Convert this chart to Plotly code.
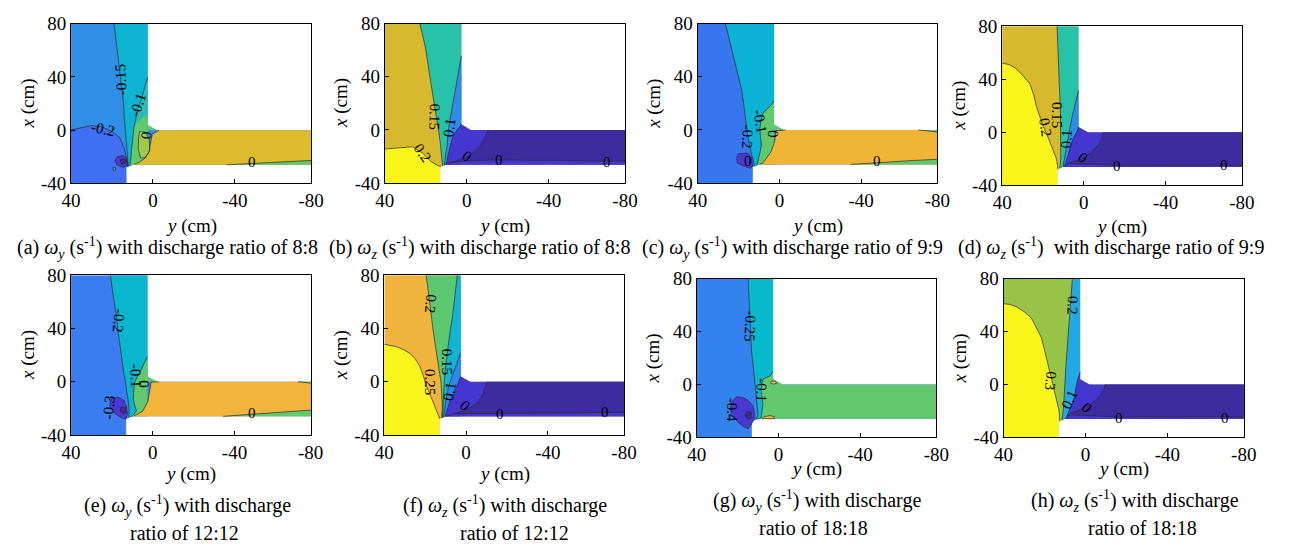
import plotly.graph_objects as go

W, H = 1290, 551
OFF = 8  # page body margin in the browser, compensated in all pixel positions
FONT = "Liberation Serif"

# ---------------- axes ----------------
H_RANGE = [40, -77.3]
H_TICKVALS = [40, 0, -40, -77.3]
H_TICKTEXT = ["40", "0", "-40", "-80"]
V_RANGE = [-40, 80]
V_TICKVALS = [-40, 0, 40, 80]
V_TICKTEXT = ["-40", "0", "40", "80"]

# flow domain outline, points are (y, x) in cm
DOMAIN = [(40, 80), (2.6, 80), (2.6, 4), (-2, 0), (-80, 0), (-80, -26),
          (10, -26), (13, -28), (13, -40), (40, -40)]

ORDER = ["a", "b", "c", "d", "e", "f", "g", "h"]
# plot-area boxes in pixels: left, right, top, bottom
BOX = {"a": (62, 306.5, 14, 180), "b": (381.5, 626, 14, 179.5),
       "c": (700, 944, 14, 179.5), "d": (1010, 1254, 16.5, 182),
       "e": (62, 306, 275.5, 441.5), "f": (381, 625, 275.5, 441.5),
       "g": (699, 943, 279, 444), "h": (1011.5, 1256, 279, 444)}
XLABEL_Y = {"a": 224, "b": 224, "c": 224, "d": 225, "e": 482, "f": 482, "g": 477, "h": 477}

# ---------------- colours ----------------
C_DKPUR = "#3c2c9f"
C_PUR = "#4636d0"
C_BLOB = "#4a38d2"
C_CORE = "#3a2a96"
C_GREEN = "#62c86d"
C_YGREEN = "#a2c84a"

# ---------------- panel data: regions (colour, contour line, closing path) ----------------
PANEL_A = dict(
    base="#2f8fe6",
    regions=[
        ("#3f6ff3", [(40, 0.2), (34.7, 1.9), (29.9, 3.5), (25.1, 2.6), (20.3, -0.6), (16.3, -5.4), (13.9, -13.9), (12.6, -24), (12.3, -27.5)],
         [(13, -28), (13, -40), (40, -40)]),
        ("#0cb3d3", [(19, 80), (17.8, 65), (16.5, 50), (15.5, 38), (14.5, 22), (14, 10), (13.3, -3), (12.6, -15), (12, -27.3)],
         [(10, -26), (2.6, -26), (2.6, 80)]),
        ("#2bbdb6", [(2.6, 40), (4, 32), (5.5, 24), (7.2, 17), (8.3, 10), (9.3, 2), (10, -8), (10.8, -18), (11.2, -26.8)],
         [(10, -26), (2.6, -26)]),
        (C_GREEN, [], [(2.6, 12), (5, 9.5), (7.5, 6), (9.3, 2), (10, -8), (10.8, -18), (11.2, -26.8), (10, -26), (2.6, -26),
                       (2.6, 0), (-2, 0), (2.6, 4)]),
        (C_YGREEN, [(6.5, -1), (3.5, -1.5), (1.8, -7), (1.5, -15), (3.5, -20.5), (6, -21), (7.2, -14), (7, -6)], None),
        ("#dcbb2d", [(-3, 0), (0.3, -3), (1.1, -9), (1.9, -16.3), (4.3, -21.6), (6.7, -24), (9, -25.5)],
         [(10, -26), (-80, -26), (-80, 0)]),
        (C_GREEN, [(-36, -26), (-45, -25.3), (-55, -24.5), (-65, -23.5), (-80, -22.5)], [(-80, -26)]),
        (C_BLOB, [(17.5, -20), (14.5, -19), (12.6, -21.5), (12.4, -26), (14.5, -28), (17.5, -26), (18.5, -23)], None),
        (C_CORE, [(15.5, -21.5), (13.6, -21.8), (13.2, -24.5), (15, -25.5), (16, -24)], None),
        ("#0cb3d3", [(19.6, -28), (18.4, -28), (18.2, -30), (19.3, -30.5)], None),
    ],
    labels=[("-0.15", 15.8, 38, -93), ("-0.1", 7.4, 19, -72), ("-0.2", 24.5, 0.8, 12),
            ("0", 3.3, -3.5, -85), ("0", -48.5, -24.2, 0)],
)

PANEL_B = dict(
    base="#d6b92d",
    regions=[
        ("#f7f51a", [(40, -14.4), (33, -13.5), (26.4, -12.7), (21.6, -17.5), (17.6, -23.6), (14.5, -26.5), (12.6, -27.8)],
         [(13, -28), (13, -40), (40, -40)]),
        ("#27c3a9", [(22.9, 80), (21.5, 70), (20, 61), (18.5, 45), (16.8, 29.7), (15.5, 15), (14.4, 5.5), (13.5, -3),
                     (12.8, -11.5), (12.2, -20), (11.8, -27.2)],
         [(10, -26), (2.6, -26), (2.6, 80)]),
        ("#2e8ce8", [(2.6, 56), (4, 42), (5.6, 29.7), (7, 18), (8, 10.3), (9, 0), (9.6, -11.5), (10.3, -20), (11, -26.7)],
         [(10, -26), (2.6, -26)]),
        (C_PUR, [(2.6, 4.3), (4.5, 0), (5.6, -1.8), (7, -6), (8, -11.5), (9, -18), (9.6, -23.6), (10.5, -26.3)],
         [(10, -26), (-80, -26), (-80, 0), (-2, 0), (2.6, 4)]),
        (C_DKPUR, [(-10.4, 0), (-9.5, -3), (-8.8, -6.6), (-7, -11), (-5.6, -13.9), (-3, -17.5), (-0.8, -19.9), (3, -22.5),
                   (5.6, -23.6), (8, -24.5), (10, -25.8)],
         [(10, -26), (-80, -26), (-80, 0)]),
        (C_PUR, [(8, -24.5), (0, -23.2), (-16, -22.6), (-40, -23), (-70, -23.3), (-80, -23.5)], [(-80, -26), (10, -26)]),
    ],
    labels=[("0.15", 15.5, 10, 92), ("0.1", 8.6, 1.5, -82), ("0.2", 21.6, -17.5, 55),
            ("0", 0, -20, 35), ("0", -16, -22.8, 0), ("0", -68.5, -24.3, 0)],
)

PANEL_C = dict(
    base="#3677f0",
    regions=[
        ("#0ab2d6", [(26.4, 80), (24.5, 68), (22.4, 56.3), (20.3, 43), (18.4, 29.7), (17.5, 20), (16.8, 10.3), (16, 1),
                     (15.2, -6.6), (14.4, -13), (13.6, -18.7), (12.6, -24), (12.2, -27.5)],
         [(10, -26), (2.6, -26), (2.6, 80)]),
        (C_GREEN, [(2.6, 22), (4.5, 18), (8, 12.7), (9, 7), (9.6, 0.6), (9, -6), (8.8, -11.5), (9.5, -17), (10.4, -23.6), (11, -26.7)],
         [(10, -26), (2.6, -26), (2.6, 0), (-2, 0), (2.6, 4)]),
        ("#f1b535", [(-3, 0), (1.6, -0.6), (2, -5), (2.4, -9), (4, -16.3), (6.4, -21.1), (8, -24.8), (9.5, -25.7)],
         [(10, -26), (-80, -26), (-80, 0)]),
        (C_GREEN, [(-35, -26), (-45, -25), (-56, -23.6), (-66, -23), (-80, -22)], [(-80, -26)]),
        (C_GREEN, [(-68, 0), (-74, -1), (-80, -2)], [(-80, 0)]),
        (C_BLOB, [(20, -18), (15.5, -17.5), (13.5, -21), (13.2, -27.5), (14.2, -29), (17, -27.5), (20.5, -25), (21, -21)], None),
    ],
    labels=[("-0.2", 15.4, -5, 92), ("-0.1", 9.3, 6, 80), ("0", 3.3, -3, -88),
            ("0", 15.5, -23.6, 0), ("0", -48, -23.3, 0)],
)

PANEL_D = dict(
    base="#d6b92d",
    regions=[
        ("#f7f51a", [(40, 52.2), (36.5, 51), (33.6, 48.5), (30, 43), (26.4, 36.4), (24.5, 28), (23.2, 19.5), (21.5, 12),
                     (20, 5), (18, -2), (16, -9.5), (14.8, -14), (13.6, -19.2), (13, -24), (12.7, -27.8)],
         [(13, -28), (13, -40), (40, -40)]),
        ("#27c3a9", [(13.1, 80), (12.8, 65), (12.5, 55.8), (12, 35), (11.5, 19.5), (11.3, 5), (11.2, -9.5), (11.3, -20), (11.8, -27.2)],
         [(10, -26), (2.6, -26), (2.6, 80)]),
        ("#2e8ce8", [(2.6, 31.6), (3.5, 26), (4.8, 19.5), (6, 10), (7.2, 0.2), (8, -7), (8.8, -14.4), (9.3, -20), (10.2, -26.1)],
         [(2.6, -26)]),
        (C_PUR, [(2.6, 4), (3.5, 0), (5, -4), (6.5, -10), (7.5, -16), (8.5, -21), (9.5, -25.9)],
         [(10, -26), (-80, -26), (-80, 0), (-2, 0), (2.6, 4)]),
        (C_DKPUR, [(-9.6, 0), (-9, -4), (-7.2, -9.5), (-5, -13), (-3.2, -15.6), (0, -18.5), (1.6, -20.4), (5, -21.8),
                   (7.2, -22.8), (9.3, -25.5)],
         [(10, -26), (-80, -26), (-80, 0)]),
        (C_PUR, [(7, -23.5), (0, -23.8), (-16, -24.8), (-40, -25), (-80, -24.8)], [(-80, -26), (10, -26)]),
    ],
    labels=[("0.2", 18.6, 3.5, 80), ("0.15", 13.1, 13, 90), ("0.1", 8.8, -4.7, -88),
            ("0", 0.3, -19.2, 40), ("0", -16, -25.3, 0), ("0", -68.5, -25, 0)],
)

PANEL_E = dict(
    base="#3a7df0",
    regions=[
        ("#08b6cd", [(20.8, 80), (19.6, 68), (18.4, 57.6), (17.6, 47), (16.8, 35.9), (16, 26), (15.2, 16.6), (14.4, 9),
                     (13.6, 2.2), (12.8, -5), (12, -12.3), (11.6, -19), (11.7, -27)],
         [(10, -26), (2.6, -26), (2.6, 80)]),
        (C_GREEN, [(2.6, 19), (4, 14), (5.6, 9.4), (7.5, 4), (8.8, -0.2), (9.3, -6), (9.6, -12.3), (9, -17), (8, -21.9),
                   (9.5, -25), (10.6, -26.4)],
         [(10, -26), (2.6, -26), (2.6, 0), (-2, 0), (2.6, 4)]),
        ("#f2b53a", [(-3, 0), (0.8, -0.2), (1.2, -4), (1.6, -7.5), (2.4, -14.7), (4.8, -21.9), (7.2, -24.3), (9.2, -25.6)],
         [(10, -26), (-80, -26), (-80, 0)]),
        (C_GREEN, [(-34.4, -26), (-45, -24.8), (-58.4, -23.1), (-68, -22.3), (-80, -21)], [(-80, -26)]),
        (C_GREEN, [(-71, 0), (-76, -0.8), (-80, -1.5)], [(-80, 0)]),
        (C_BLOB, [(20.5, -13), (17, -11.5), (14, -14), (12.8, -19), (12.4, -24), (13.1, -28), (14.5, -27.5), (17, -25.5),
                  (19.5, -22.5), (21, -18)], None),
        (C_CORE, [(15.5, -19), (13.2, -19.5), (13, -23), (14.8, -24), (16, -22)], None),
    ],
    labels=[("-0.2", 16.8, 45.5, 95), ("-0.1", 8.2, 4.5, 88), ("0", 4, -1.5, 90),
            ("-0.3", 21.6, -19.5, -85), ("0", -48.5, -23.3, 0)],
)

PANEL_F = dict(
    base="#f0b33c",
    regions=[
        ("#f7f51a", [(40, 28.2), (37, 27.5), (33.9, 26.3), (30.5, 24), (27.5, 21.4), (25, 17.5), (22.7, 11.8), (21, 5),
                     (19.5, -2.7), (17.5, -10), (15.5, -17.1), (14, -22.5), (12.8, -27.9)],
         [(13, -28), (13, -40), (40, -40)]),
        ("#5cc870", [(19.5, 80), (18.3, 64), (17.1, 48), (15.9, 36), (14.7, 23.9), (13.5, 12), (12.3, -0.2), (11.9, -10),
                     (11.6, -19.5), (12, -27.3)],
         [(10, -26), (2.6, -26), (2.6, 80)]),
        ("#12b4d4", [(4.3, 80), (5.5, 64), (6.7, 48), (8, 36), (9.1, 23.9), (10, 12), (10.7, -0.2), (10.9, -10),
                     (11.2, -19.5), (11.5, -27)],
         [(10, -26), (2.6, -26), (2.6, 80)]),
        ("#2f86ec", [(2.6, 22), (4.5, 14), (6.5, 6), (8.5, -3), (9.5, -11), (10.5, -20), (11, -26.7)],
         [(10, -26), (2.6, -26)]),
        (C_PUR, [(2.6, 4), (3.5, 0), (5, -5), (6.5, -10), (8, -15), (9, -20), (10.3, -26.2)],
         [(10, -26), (-80, -26), (-80, 0), (-2, 0), (2.6, 4)]),
        (C_DKPUR, [(-10.1, 0), (-9.5, -4), (-8.5, -8.7), (-7, -12.5), (-5.3, -15.9), (-3, -18.5), (-0.5, -20.7), (3, -22.8),
                   (5.1, -23.9), (7.5, -24.8), (9.9, -25.9)],
         [(10, -26), (-80, -26), (-80, 0)]),
        (C_PUR, [(6, -24.3), (0, -23.8), (-16.5, -23.8), (-40, -23.5), (-68, -23), (-80, -23)], [(-80, -26), (10, -26)]),
    ],
    labels=[("0.2", 17.1, 58.8, 95), ("0.15", 9.3, 15, 90), ("0.25", 17.9, -0.5, 90),
            ("0.1", 8.3, -7.5, -80), ("0", 0.3, -18.3, 45), ("0", -16.5, -24.3, 0), ("0", -68.2, -23.1, 0)],
)

PANEL_G = dict(
    base="#3482ee",
    regions=[
        ("#08b8cc", [(14.8, 80), (14.4, 65), (14, 50.2), (13.6, 38), (13.2, 25.9), (12.4, 15), (11.6, 4.1), (11.2, -3),
                     (10.8, -10.4), (10.4, -16), (10, -22.5), (10.8, -26.5)],
         [(10, -26), (2.6, -26), (2.6, 80)]),
        (C_GREEN, [(2.6, 10), (4, 6.5), (7.6, 4.1), (8.2, 0), (8.4, -5.6), (8, -10), (7.6, -15.3), (8, -20), (8.4, -25), (10.3, -26.2)],
         [(10, -26), (-80, -26), (-80, 0), (-2, 0), (2.6, 4)]),
        ("#f3b43a", [(3.5, 2.5), (1.5, 2.5), (0.8, 1), (2.5, 0.2), (3.8, 1)], None),
        ("#f3b43a", [(7, -24.3), (4, -23.5), (2, -24.5), (2, -25.9), (8, -25.9)], None),
        (C_BLOB, [(20.4, -9.2), (17, -10), (14.5, -12.5), (12.5, -16), (11.8, -21), (11.8, -26), (13.2, -30), (14.8, -33.5),
                  (17.5, -31.5), (20.4, -27.4), (23, -22), (23.6, -17.7), (22.5, -12.5)], None),
        (C_CORE, [(15.5, -20.5), (13.3, -21), (13, -25), (15, -26.5), (16.3, -23.5)], None),
    ],
    labels=[("-0.25", 14, 44, 92), ("-0.1", 8.4, -4.4, 92), ("-0.4", 22.8, -18.9, 90)],
)

PANEL_H = dict(
    base="#97c447",
    regions=[
        ("#f8f51a", [(40, 61.1), (37, 60.5), (33.6, 58.7), (30, 55), (26.4, 50.2), (24, 43), (21.6, 35.6), (20, 26),
                     (18.4, 16.2), (17.2, 8), (16, -0.7), (14.8, -8), (13.6, -15.3), (12.8, -21), (12.6, -27.8)],
         [(13, -28), (13, -40), (40, -40)]),
        ("#20a9e2", [(6.4, 80), (7.2, 65), (8, 50.2), (8.8, 32), (9.6, 13.8), (10, 2), (10.4, -10.4), (10.8, -19), (11.5, -27)],
         [(10, -26), (2.6, -26), (2.6, 80)]),
        (C_PUR, [(2.6, 9.5), (3.5, 6), (4, 3), (4.8, -3.5), (5.6, -10.4), (6.8, -15.5), (8, -20.1), (9.6, -25.8)],
         [(10, -26), (-80, -26), (-80, 0), (-2, 0), (2.6, 4)]),
        (C_DKPUR, [(-9.6, 0), (-9, -4), (-7.2, -8), (-5, -12), (-2.4, -15.3), (1, -18), (4, -20.1), (7, -21.5), (9.5, -25.6)],
         [(10, -26), (-80, -26), (-80, 0)]),
        (C_PUR, [(7, -23), (0, -23.5), (-16.5, -24.5), (-40, -24.6), (-80, -24.5)], [(-80, -26), (10, -26)]),
    ],
    labels=[("0.2", 6.4, 59.9, 92), ("0.3", 16.8, 2.9, 95), ("0.1", 8, -11.6, -65),
            ("0", -0.8, -17.7, 45), ("0", -16.5, -25, 0), ("0", -68.3, -25, 0)],
)

PANELS = {"a": PANEL_A, "b": PANEL_B, "c": PANEL_C, "d": PANEL_D,
          "e": PANEL_E, "f": PANEL_F, "g": PANEL_G, "h": PANEL_H}

# ---------------- captions (text, centre x px, centre y px) ----------------
WY = "<i>ω<sub>y</sub></i> (s<sup>-1</sup>)"
WZ = "<i>ω<sub>z</sub></i> (s<sup>-1</sup>)"
CAPTIONS = [
    ("(a) " + WY + " with discharge ratio of 8:8", 160, 247),
    ("(b) " + WZ + " with discharge ratio of 8:8", 478, 247),
    ("(c) " + WY + " with discharge ratio of 9:9", 797, 247),
    ("(d) " + WZ + "  with discharge ratio of 9:9", 1121, 247),
    ("(e) " + WY + " with discharge", 181, 515),
    ("ratio of 12:12", 178, 543),
    ("(f) " + WZ + " with discharge", 504, 515),
    ("ratio of 12:12", 514, 543),
    ("(g) " + WY + " with discharge", 821, 510),
    ("ratio of 18:18", 818, 538),
    ("(h) " + WZ + " with discharge", 1145, 510),
    ("ratio of 18:18", 1153, 538),
]

fig = go.Figure()
annotations = []
layout = {}


def xy(pts):
    return [p[0] for p in pts], [p[1] for p in pts]


def px(v):
    return (v - OFF) / W


def py(v):
    return 1 - (v - OFF) / H


for i, key in enumerate(ORDER):
    n = "" if i == 0 else str(i + 1)
    xa, ya = "x" + n, "y" + n
    spec = PANELS[key]
    l, r, t, b = BOX[key]
    xs, ys = xy(DOMAIN + [DOMAIN[0]])
    fig.add_trace(go.Scatter(x=xs, y=ys, xaxis=xa, yaxis=ya, mode="lines", fill="toself",
                             fillcolor=spec["base"], line=dict(width=0), hoverinfo="skip", showlegend=False))
    for color, ln, cl in spec["regions"]:
        pts = ln + (cl if cl else [])
        xs, ys = xy(pts + [pts[0]])
        fig.add_trace(go.Scatter(x=xs, y=ys, xaxis=xa, yaxis=ya, mode="lines", fill="toself",
                                 fillcolor=color, line=dict(width=0), hoverinfo="skip", showlegend=False))
    for color, ln, cl in spec["regions"]:
        if not ln:
            continue
        pts = ln if cl else ln + [ln[0]]
        xs, ys = xy(pts)
        fig.add_trace(go.Scatter(x=xs, y=ys, xaxis=xa, yaxis=ya, mode="lines",
                                 line=dict(color="#2b2b2b", width=0.7), hoverinfo="skip", showlegend=False))
    for txt, yv, xv, ang in spec["labels"]:
        annotations.append(dict(text=txt, x=yv, y=xv, xref=xa, yref=ya, showarrow=False,
                                xanchor="center", yanchor="middle", textangle=ang,
                                font=dict(family=FONT, size=15, color="black")))
    layout["xaxis" + n] = dict(domain=[px(l), px(r)], range=H_RANGE, tickvals=H_TICKVALS, ticktext=H_TICKTEXT,
                               anchor=ya, ticks="inside", ticklen=4, tickcolor="black", showline=True,
                               linecolor="black", linewidth=1, mirror=True, showgrid=False, zeroline=False,
                               tickfont=dict(family=FONT, size=19, color="black"))
    layout["yaxis" + n] = dict(domain=[py(b), py(t)], range=V_RANGE, tickvals=V_TICKVALS, ticktext=V_TICKTEXT,
                               anchor=xa, ticks="inside", ticklen=4, tickcolor="black", showline=True,
                               linecolor="black", linewidth=1, mirror=True, showgrid=False, zeroline=False,
                               tickfont=dict(family=FONT, size=19, color="black"))
    annotations.append(dict(text="<i>x</i> (cm)", x=px(l - 44), y=py((t + b) / 2), xref="paper", yref="paper",
                            xanchor="center", yanchor="middle", showarrow=False, textangle=-90,
                            font=dict(family=FONT, size=19, color="black")))
    annotations.append(dict(text="<i>y</i> (cm)", x=px((l + r) / 2), y=py(XLABEL_Y[key]), xref="paper", yref="paper",
                            xanchor="center", yanchor="middle", showarrow=False,
                            font=dict(family=FONT, size=19, color="black")))

for txt, cx, cy in CAPTIONS:
    annotations.append(dict(text=txt, x=px(cx), y=py(cy), xref="paper", yref="paper", showarrow=False,
                            xanchor="center", yanchor="middle", font=dict(family=FONT, size=20, color="black")))

fig.update_layout(width=W, height=H, margin=dict(l=0, r=0, t=0, b=0), paper_bgcolor="white",
                  plot_bgcolor="white", showlegend=False, annotations=annotations, **layout)
fig.write_html("out.html")
